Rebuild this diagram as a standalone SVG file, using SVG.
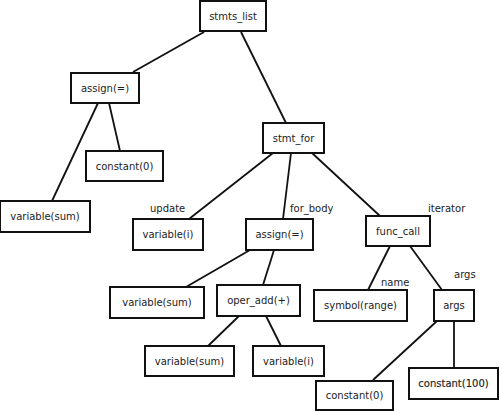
<svg xmlns="http://www.w3.org/2000/svg" width="500" height="411" viewBox="0 0 500 411">
<style>
.n rect{fill:#fff;stroke:#111;stroke-width:2}
text{font-family:"DejaVu Sans",sans-serif;font-size:10px;fill:#222;text-anchor:middle}
.lbl{text-anchor:start}
#edges line{stroke:#111;stroke-width:1.8}
</style>
<rect width="500" height="411" fill="#fff"/>
<g id="edges">
<line x1="204" y1="32" x2="133" y2="72"/>
<line x1="241" y1="32" x2="286" y2="123"/>
<line x1="98" y1="103" x2="52" y2="201"/>
<line x1="109" y1="103" x2="120" y2="151"/>
<line x1="273" y1="153" x2="189" y2="219"/>
<line x1="291" y1="153" x2="283" y2="219"/>
<line x1="312" y1="153" x2="380" y2="216"/>
<line x1="250" y1="250" x2="186" y2="287"/>
<line x1="274" y1="250" x2="263" y2="285"/>
<line x1="239" y1="316" x2="208" y2="346"/>
<line x1="266" y1="316" x2="281" y2="346"/>
<line x1="390" y1="246" x2="368" y2="290"/>
<line x1="410" y1="246" x2="442" y2="290"/>
<line x1="437" y1="321" x2="373" y2="380"/>
<line x1="454" y1="321" x2="454" y2="368"/>
</g>
<g id="labels">
<text x="150" y="212" class="lbl">update</text>
<text x="290" y="212" class="lbl">for_body</text>
<text x="428" y="212" class="lbl">iterator</text>
<text x="381" y="286" class="lbl">name</text>
<text x="454" y="278" class="lbl">args</text>
</g>
<g id="n_stmts_list" class="n"><rect x="200" y="1" width="66" height="30"/><text x="233" y="19.5">stmts_list</text></g>
<g id="n_assign1" class="n"><rect x="71" y="73" width="68" height="30"/><text x="105" y="91.5">assign(=)</text></g>
<g id="n_constant0a" class="n"><rect x="86" y="151" width="77" height="30"/><text x="124.5" y="169.5">constant(0)</text></g>
<g id="n_varsum1" class="n"><rect x="0" y="201" width="90" height="31"/><text x="45" y="220">variable(sum)</text></g>
<g id="n_stmt_for" class="n"><rect x="263" y="123" width="61" height="30"/><text x="293.5" y="141.5">stmt_for</text></g>
<g id="n_vari1" class="n"><rect x="133" y="219" width="70" height="31"/><text x="168" y="238">variable(i)</text></g>
<g id="n_assign2" class="n"><rect x="246" y="219" width="67" height="31"/><text x="279.5" y="238">assign(=)</text></g>
<g id="n_func_call" class="n"><rect x="366" y="216" width="64" height="30"/><text x="398" y="234.5">func_call</text></g>
<g id="n_varsum2" class="n"><rect x="110" y="287" width="94" height="31"/><text x="157" y="306">variable(sum)</text></g>
<g id="n_oper_add" class="n"><rect x="217" y="285" width="83" height="31"/><text x="258.5" y="304">oper_add(+)</text></g>
<g id="n_symbol" class="n"><rect x="314" y="290" width="93" height="31"/><text x="360.5" y="309">symbol(range)</text></g>
<g id="n_args" class="n"><rect x="434" y="290" width="40" height="31"/><text x="454" y="309">args</text></g>
<g id="n_varsum3" class="n"><rect x="145" y="346" width="89" height="30"/><text x="189.5" y="364.5">variable(sum)</text></g>
<g id="n_vari2" class="n"><rect x="253" y="346" width="71" height="30"/><text x="288.5" y="364.5">variable(i)</text></g>
<g id="n_constant0b" class="n"><rect x="316" y="381" width="77" height="29"/><text x="354.5" y="399">constant(0)</text></g>
<g id="n_constant100" class="n"><rect x="409" y="368" width="89" height="31"/><text x="453.5" y="387" style="stroke:#222;stroke-width:0.15">constant(100)</text></g>
</svg>
